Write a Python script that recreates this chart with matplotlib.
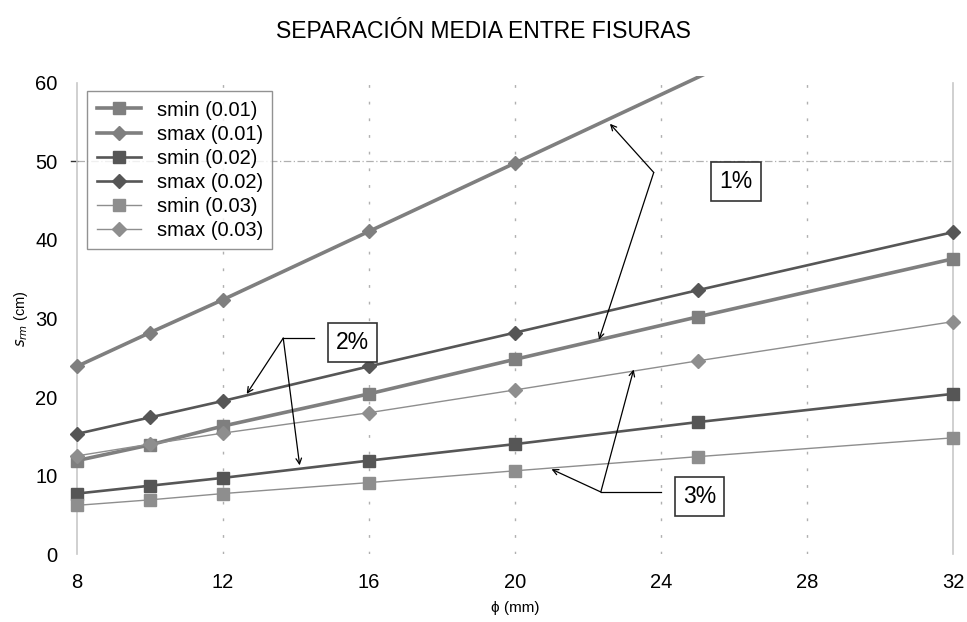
import numpy as np
import matplotlib.pyplot as plt
from matplotlib.transforms import Bbox, TransformedBbox

plt.rcParams['font.family'] = ['Liberation Sans', 'DejaVu Sans']

# diámetros de barra (mm)
phi = [8, 10, 12, 16, 20, 25, 32]

# separación media entre fisuras (cm)
smin_001 = [11.9, 13.9, 16.3, 20.4, 24.8, 30.2, 37.6]
smax_001 = [23.9, 28.2, 32.4, 41.1, 49.8, 60.7, 75.9]
smin_002 = [7.7, 8.7, 9.7, 11.9, 14.0, 16.8, 20.4]
smax_002 = [15.3, 17.4, 19.5, 23.9, 28.2, 33.6, 41.0]
smin_003 = [6.2, 6.9, 7.7, 9.1, 10.6, 12.4, 14.8]
smax_003 = [12.5, 14.0, 15.4, 18.0, 20.9, 24.6, 29.6]

labels = ['smin (0.01)', 'smax (0.01)', 'smin (0.02)',
          'smax (0.02)', 'smin (0.03)', 'smax (0.03)']

fig = plt.figure(figsize=(9.67, 6.22), dpi=100)
ax = fig.add_axes([0.0796, 0.1093, 0.906, 0.7573])

# estilo de cada serie: color, marcador, grosor
estilos = [
    ('#7f7f7f', 's', 2.6, 9),
    ('#7f7f7f', 'D', 2.6, 7),
    ('#565656', 's', 1.9, 9),
    ('#565656', 'D', 1.9, 7),
    ('#8e8e8e', 's', 1.0, 9),
    ('#8e8e8e', 'D', 1.0, 7),
]
series = [smin_001, smax_001, smin_002, smax_002, smin_003, smax_003]
for ys, lab, (c, m, lw, ms) in zip(series, labels, estilos):
    # excel no dibuja marcadores fuera del área, pero la línea sobresale un poco
    visibles = [i for i, v in enumerate(ys) if v <= 60]
    ln, = ax.plot(phi, ys, color=c, marker=m, lw=lw, ms=ms, mec=c, mfc=c,
                  label=lab, zorder=3, markevery=visibles)
    ln.set_clip_box(TransformedBbox(Bbox([[7, -1], [33, 60.9]]), ax.transData))

ax.set_xlim(8, 32)
ax.set_ylim(0, 60)
ax.set_xticks([8, 12, 16, 20, 24, 28, 32])
ax.set_yticks([0, 10, 20, 30, 40, 50, 60])
ax.tick_params(length=0, labelsize=14.5, pad=14)
ax.tick_params(axis='x', pad=14)

for s in ['top', 'bottom']:
    ax.spines[s].set_visible(False)
for s in ['left', 'right']:
    ax.spines[s].set_color('#c8c8c8')
    ax.spines[s].set_linewidth(1.2)

for xv in [12, 16, 20, 24, 28]:
    ax.axvline(xv, color='#b0b0b0', lw=1, ls=(0, (2, 10)), zorder=1)
ax.axhline(50, color='#b0b0b0', lw=0.9, ls=(0, (6, 2, 1, 2)), zorder=1)
ax.plot([7.85, 8], [50, 50], color='#333333', lw=1, clip_on=False)

ax.set_xlabel('ϕ (mm)', fontsize=11, labelpad=6)
ax.set_ylabel('$s_{rm}$ (cm)', fontsize=10.5, labelpad=4)
fig.suptitle('SEPARACIÓN MEDIA ENTRE FISURAS', fontsize=16.5, y=0.968)

leg = ax.legend(loc='upper left', bbox_to_anchor=(0.012, 0.982),
                fontsize=14.5, frameon=True, fancybox=False,
                labelspacing=0.25, handlelength=2.2, borderpad=0.45,
                borderaxespad=0)
leg.get_frame().set_edgecolor('#777777')
leg.get_frame().set_linewidth(1.0)

flecha = dict(arrowstyle='->', color='black', lw=0.9, shrinkA=0, shrinkB=0)
caja = dict(boxstyle='square,pad=0.35', fc='white', ec='#333333', lw=1.2)

# 1 %
ax.annotate('', xy=(22.6, 54.8), xytext=(23.8, 48.6), arrowprops=flecha)
ax.annotate('', xy=(22.3, 27.3), xytext=(23.8, 48.6), arrowprops=flecha)
ax.text(26.05, 47.4, '1%', fontsize=16.5, ha='center', va='center', bbox=caja)

# 2 %
ax.annotate('', xy=(12.65, 20.4), xytext=(13.65, 27.5), arrowprops=flecha)
ax.annotate('', xy=(14.1, 11.3), xytext=(13.65, 27.5), arrowprops=flecha)
ax.plot([13.65, 14.5], [27.5, 27.5], color='black', lw=0.9)
ax.text(15.55, 27.0, '2%', fontsize=16.5, ha='center', va='center', bbox=caja)

# 3 %
ax.annotate('', xy=(21.0, 10.8), xytext=(22.35, 7.9), arrowprops=flecha)
ax.annotate('', xy=(23.25, 23.5), xytext=(22.35, 7.9), arrowprops=flecha)
ax.plot([22.35, 24.0], [7.9, 7.9], color='black', lw=0.9)
ax.text(25.05, 7.3, '3%', fontsize=16.5, ha='center', va='center', bbox=caja)

fig.savefig('out.png', dpi=100)
